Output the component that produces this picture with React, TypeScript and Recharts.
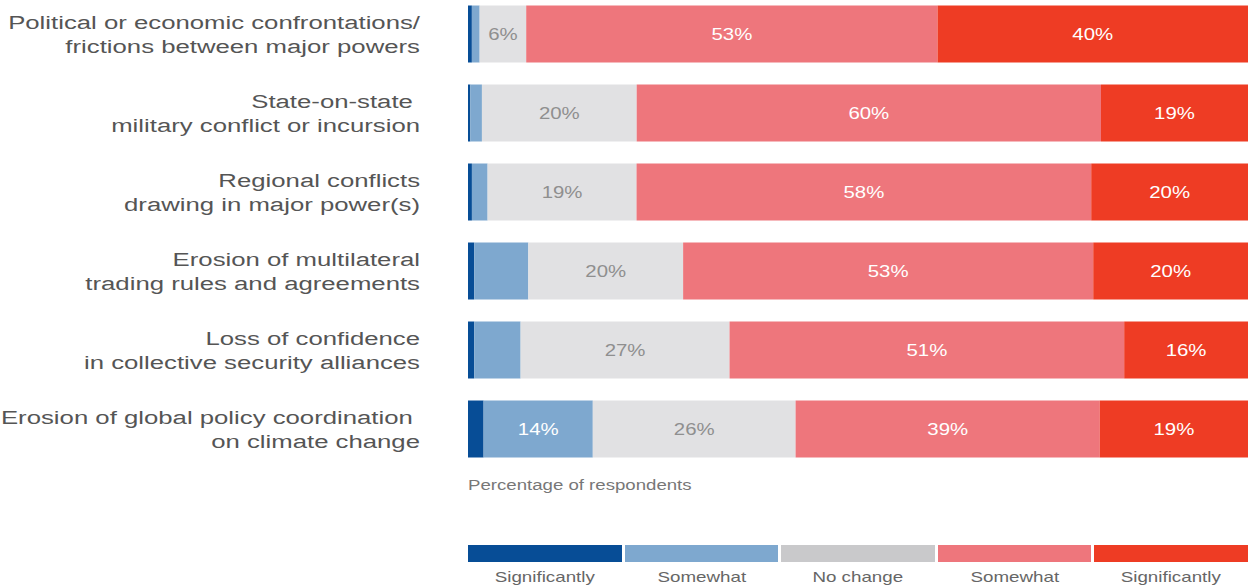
import { BarChart, Bar, XAxis, YAxis, LabelList } from 'recharts'

const categories = [
  'Political or economic confrontations/\nfrictions between major powers',
  'State-on-state \nmilitary conflict or incursion',
  'Regional conflicts\ndrawing in major power(s)',
  'Erosion of multilateral\ntrading rules and agreements',
  'Loss of confidence\nin collective security alliances',
  'Erosion of global policy coordination \non climate change',
]

const sigDecrease = [0.5, 0.3, 0.5, 0.8, 0.8, 2]
const someDecrease = [1, 1.5, 2, 7, 6, 14]
const noChange = [6, 20, 19, 20, 27, 26]
const someIncrease = [53, 60, 58, 53, 51, 39]
const sigIncrease = [40, 19, 20, 20, 16, 19]

const legendLabels = ['Significantly', 'Somewhat', 'No change', 'Somewhat', 'Significantly']

const data = categories.map((name, i) => ({
  name,
  sigDec: sigDecrease[i],
  someDec: someDecrease[i],
  none: noChange[i],
  someInc: someIncrease[i],
  sigInc: sigIncrease[i],
}))

const series = [
  { key: 'sigDec', fill: '#074d96', legend: '#074d96', text: '#fff', minLabel: 999 },
  { key: 'someDec', fill: '#7ea8cf', legend: '#7ea8cf', text: '#fff', minLabel: 10 },
  { key: 'none', fill: '#e1e1e3', legend: '#c9c9cb', text: '#8f8f8f', minLabel: 0 },
  { key: 'someInc', fill: '#ee767c', legend: '#ee767c', text: '#fff', minLabel: 0 },
  { key: 'sigInc', fill: '#ee3c24', legend: '#ee3c24', text: '#fff', minLabel: 0 },
]

const FONT = '"Liberation Sans", Arial, Helvetica, sans-serif'
// the source image is stretched sideways, so text is widened to match
const STRETCH = 1.355

function CategoryTick(props: any) {
  const { x, y, payload } = props
  const lines = String(payload.value).split('\n')
  return (
    <g transform={`translate(${x - 40},${y}) scale(${STRETCH},1)`}>
      <text x={0} y={0} textAnchor="end" fill="#555" fontSize={19} fontFamily={FONT} xmlSpace="preserve">
        {lines.map((l, i) => (
          <tspan key={i} x={0} dy={i === 0 ? -5 : 24}>
            {l}
          </tspan>
        ))}
      </text>
    </g>
  )
}

function makeBarLabel(color: string, minLabel: number) {
  return (props: any) => {
    const { x, y, width, height, value } = props
    const v = Number(value)
    if (!(v >= minLabel)) return null
    const cx = Number(x) + Number(width) / 2
    const cy = Number(y) + Number(height) / 2
    return (
      <g transform={`translate(${cx},${cy}) scale(1.2,1)`}>
        <text x={0} y={0} dy={6} textAnchor="middle" fill={color} fontSize={17} fontFamily={FONT}>
          {`${Math.round(v)}%`}
        </text>
      </g>
    )
  }
}

export default function App() {
  return (
    <div style={{ position: 'absolute', left: 0, top: 0, width: 1255, height: 585, background: '#fff', overflow: 'hidden' }}>
      <BarChart
        width={1255}
        height={585}
        data={data}
        layout="vertical"
        stackOffset="expand"
        barSize={57}
        margin={{ top: -5.5, right: 7, left: 0, bottom: 116.5 }}
      >
        <XAxis type="number" hide domain={[0, 1]} />
        <YAxis
          type="category"
          dataKey="name"
          width={468}
          axisLine={false}
          tickLine={false}
          tick={<CategoryTick />}
        />
        {series.map((s) => (
          <Bar key={s.key} dataKey={s.key} stackId="a" fill={s.fill} isAnimationActive={false}>
            <LabelList dataKey={s.key} content={makeBarLabel(s.text, s.minLabel)} />
          </Bar>
        ))}
      </BarChart>
      <div
        style={{
          position: 'absolute',
          left: 468,
          top: 477,
          fontFamily: FONT,
          fontSize: 14,
          color: '#777',
          transform: `scaleX(1.33)`,
          transformOrigin: 'left center',
          whiteSpace: 'nowrap',
        }}
      >
        Percentage of respondents
      </div>
      <div style={{ position: 'absolute', left: 468, top: 545, width: 780, display: 'flex', gap: 3 }}>
        {series.map((s, i) => (
          <div key={s.key} style={{ flex: 1, textAlign: 'center' }}>
            <div style={{ height: 17, background: s.legend }} />
            <div
              style={{
                fontFamily: FONT,
                fontSize: 15,
                color: '#666',
                marginTop: 6,
                transform: 'scaleX(1.25)',
                transformOrigin: 'center',
                whiteSpace: 'nowrap',
              }}
            >
              {legendLabels[i]}
            </div>
          </div>
        ))}
      </div>
    </div>
  )
}
